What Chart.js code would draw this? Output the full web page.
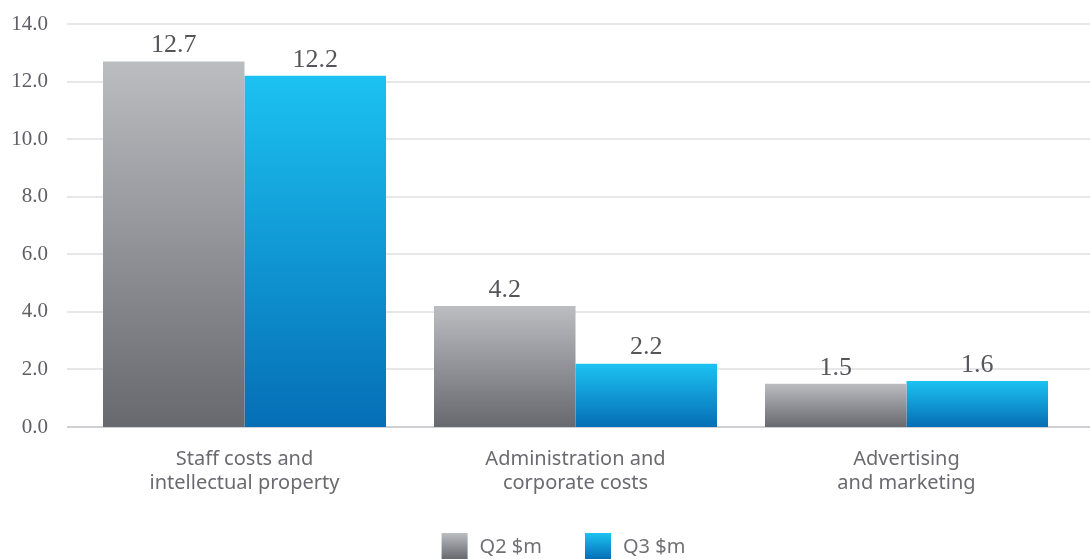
<!DOCTYPE html>
<html>
<head>
<meta charset="utf-8">
<script src="https://cdn.jsdelivr.net/npm/chart.js@4.4.0/dist/chart.umd.min.js"></script>
<style>
  html, body { margin: 0; padding: 0; background: #fff; }
  #wrap { width: 1090px; height: 559px; }
</style>
</head>
<body>
<div id="wrap"><canvas id="myChart"></canvas></div>
<script>
const categories = [
    ['Staff costs and', 'intellectual property'],
    ['Administration and', 'corporate costs'],
    ['Advertising', 'and marketing']
];
const q2Values = [12.7, 4.2, 1.5];
const q3Values = [12.2, 2.2, 1.6];
const seriesNames = ['Q2 $m', 'Q3 $m'];
const yTicks = [0, 2, 4, 6, 8, 10, 12, 14];

// top / bottom colours of each gradient
const greyStops = ['#bbbdc1', '#68686f'];
const blueStops = ['#1cc2f1', '#056eb6'];

function makeGradient(c, stops, top, bottom) {
    const g = c.createLinearGradient(0, top, 0, bottom);
    g.addColorStop(0, stops[0]);
    g.addColorStop(1, stops[1]);
    return g;
}

function barGradient(stops) {
    return function (context) {
        const chart = context.chart;
        const yScale = chart.scales.y;
        if (!chart.chartArea || !yScale || context.type !== 'data') return stops[1];
        const top = yScale.getPixelForValue(context.parsed.y);
        const base = yScale.getPixelForValue(0);
        return makeGradient(chart.ctx, stops, top, base);
    };
}

// gridlines running the full width of the page
const gridPlugin = {
    id: 'wideGrid',
    beforeDatasetsDraw(chart) {
        const ctx = chart.ctx;
        const y = chart.scales.y;
        ctx.save();
        ctx.lineWidth = 2;
        y.ticks.forEach(t => {
            const py = Math.round(y.getPixelForValue(t.value));
            ctx.strokeStyle = t.value === 0 ? '#cfd0d3' : '#e7e7e9';
            ctx.beginPath();
            ctx.moveTo(67, py);
            ctx.lineTo(chart.width, py);
            ctx.stroke();
        });
        ctx.restore();
    }
};

// value labels above the bars
const valuePlugin = {
    id: 'valueLabels',
    afterDatasetsDraw(chart) {
        const ctx = chart.ctx;
        ctx.save();
        ctx.font = '26px "Liberation Serif", serif';
        ctx.fillStyle = '#55555b';
        ctx.textAlign = 'center';
        ctx.textBaseline = 'bottom';
        chart.data.datasets.forEach((ds, i) => {
            chart.getDatasetMeta(i).data.forEach((bar, j) => {
                ctx.fillText(ds.data[j].toFixed(1), bar.x, bar.y - 3);
            });
        });
        ctx.restore();
    }
};

// legend at the foot, boxes partly cut by the page edge
const legendPlugin = {
    id: 'footLegend',
    afterDraw(chart) {
        const ctx = chart.ctx;
        const box = 26, gap = 12, itemGap = 43;
        ctx.save();
        ctx.font = '20px "Noto Sans", sans-serif';
        ctx.textBaseline = 'middle';
        const widths = seriesNames.map(n => box + gap + ctx.measureText(n).width);
        const total = widths.reduce((a, b) => a + b, 0) + itemGap;
        const area = chart.chartArea;
        let x = (area.left + area.right) / 2 - 12 - total / 2;
        const top = chart.height - 26;
        seriesNames.forEach((name, i) => {
            const stops = i === 0 ? greyStops : blueStops;
            ctx.fillStyle = makeGradient(ctx, stops, top, top + box);
            ctx.fillRect(x, top, box, box);
            ctx.fillStyle = '#707076';
            ctx.fillText(name, x + box + gap, top + 14);
            x += widths[i] + itemGap;
        });
        ctx.restore();
    }
};

const ctx = document.getElementById('myChart');

const data = {
    labels: categories,
    datasets: [{
        label: seriesNames[0],
        data: q2Values,
        backgroundColor: barGradient(greyStops)
    }, {
        label: seriesNames[1],
        data: q3Values,
        backgroundColor: barGradient(blueStops)
    }]
};

const config = {
    type: 'bar',
    data: data,
    options: {
        responsive: true,
        maintainAspectRatio: false,
        animation: false,
        layout: {
            padding: { top: 24, right: 18, bottom: 46, left: 0 }
        },
        datasets: {
            bar: { categoryPercentage: 0.855, barPercentage: 1.0 }
        },
        scales: {
            x: {
                grid: { display: false },
                border: { display: false },
                ticks: {
                    color: '#6a6a70',
                    font: { family: '"Noto Sans", sans-serif', size: 20, lineHeight: 1.2 },
                    padding: 12,
                    maxRotation: 0
                },
                afterFit(scale) { scale.height = 86; }
            },
            y: {
                min: 0,
                max: 14,
                afterBuildTicks(scale) {
                    scale.ticks = yTicks.map(v => ({ value: v }));
                },
                grid: { display: false },
                border: { display: false },
                ticks: {
                    color: '#5e5e64',
                    font: { family: '"Liberation Serif", serif', size: 21 },
                    padding: 23,
                    callback: v => v.toFixed(1)
                },
                afterFit(scale) {
                    scale.width = 79;
                    scale.paddingTop = 0;
                    scale.paddingBottom = 0;
                }
            }
        },
        plugins: {
            legend: { display: false },
            tooltip: { enabled: false }
        }
    },
    plugins: [gridPlugin, valuePlugin, legendPlugin]
};

const myChart = new Chart(ctx, config);
</script>
</body>
</html>
